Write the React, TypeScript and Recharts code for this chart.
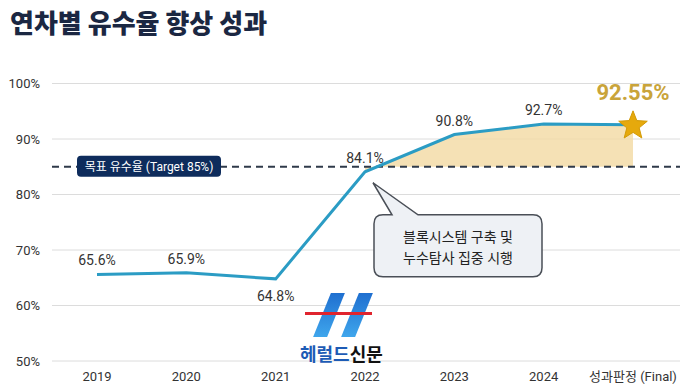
import React from 'react';
import {
  ComposedChart, Line, Area, XAxis, YAxis, CartesianGrid,
  ReferenceLine, ReferenceDot, LabelList,
} from 'recharts';

const years = ['2019', '2020', '2021', '2022', '2023', '2024', '성과판정 (Final)'];
const rates = [65.6, 65.9, 64.8, 84.1, 90.8, 92.7, 92.55];
const yTicks = [50, 60, 70, 80, 90, 100];
const TARGET = 85;
const FIRST_SHADED = 3; // shading starts from 2022
const calloutLines = ['블록시스템 구축 및', '누수탐사 집중 시행'];

const data = years.map((year, i) => ({
  year,
  rate: rates[i],
  band: i >= FIRST_SHADED ? [TARGET, rates[i]] : null,
}));

const FONT = "Roboto, 'Noto Sans CJK KR', sans-serif";

const RateLabel = (props: any) => {
  const { x, y, value, index } = props;
  if (index === rates.length - 1) return null;
  const below = index === 2;
  return (
    <text x={x} y={below ? y + 22 : y - 9} textAnchor="middle" fontSize={14} fill="#333">
      {value}%
    </text>
  );
};

const TargetTag = (props: any) => {
  const vb = props.viewBox || {};
  const x = vb.x + 25;
  const y = vb.y;
  return (
    <g>
      <rect x={x} y={y - 11} width={144} height={21} rx={4} fill="#0e2c5c" />
      <text x={x + 72} y={y + 4} textAnchor="middle" fontSize={12} fill="#fff">
        목표 유수율 (Target 85%)
      </text>
    </g>
  );
};

const Star = (props: any) => {
  const { cx, cy } = props;
  const pts: string[] = [];
  for (let i = 0; i < 10; i++) {
    const r = i % 2 === 0 ? 15 : 6.5;
    const a = -Math.PI / 2 + (i * Math.PI) / 5;
    pts.push(`${cx + r * Math.cos(a)},${cy + 1 + r * Math.sin(a)}`);
  }
  return (
    <g>
      <polygon points={pts.join(' ')} fill="#e6a90c" stroke="#d39a06" strokeWidth={1} />
      <text x={cx} y={cy - 25} textAnchor="middle" fontSize={22} fontWeight={700} fill="#c9a43a">
        92.55%
      </text>
    </g>
  );
};

const Callout = (props: any) => {
  const { cx, cy } = props;
  const x0 = cx + 9, x1 = cx + 177, y0 = cy + 43, y1 = cy + 105, r = 9;
  const d = [
    `M${x0 + r},${y0}`,
    `L${cx + 27},${y0}`,
    `L${cx + 8},${cy + 11}`,
    `L${cx + 53},${y0}`,
    `L${x1 - r},${y0}`,
    `Q${x1},${y0} ${x1},${y0 + r}`,
    `L${x1},${y1 - r}`,
    `Q${x1},${y1} ${x1 - r},${y1}`,
    `L${x0 + r},${y1}`,
    `Q${x0},${y1} ${x0},${y1 - r}`,
    `L${x0},${y0 + r}`,
    `Q${x0},${y0} ${x0 + r},${y0}`,
    'Z',
  ].join(' ');
  const mid = (x0 + x1) / 2;
  return (
    <g>
      <path d={d} fill="#eef1f5" stroke="#4a4f57" strokeWidth={1.5} />
      {calloutLines.map((t, i) => (
        <text key={t} x={mid} y={y0 + 27 + i * 21} textAnchor="middle" fontSize={14} fill="#222">
          {t}
        </text>
      ))}
    </g>
  );
};

const Watermark = () => (
  <div style={{ position: 'absolute', left: 300, top: 290, width: 82, height: 80, pointerEvents: 'none' }}>
    <div style={{ position: 'absolute', left: 22, top: 3, width: 14, height: 44, background: 'linear-gradient(180deg,#1f6fd0,#3fa6ec)', transform: 'skewX(-22deg)' }} />
    <div style={{ position: 'absolute', left: 50, top: 3, width: 14, height: 44, background: 'linear-gradient(180deg,#1f6fd0,#3fa6ec)', transform: 'skewX(-22deg)' }} />
    <div style={{ position: 'absolute', left: 5, top: 22, width: 67, height: 3, background: '#e0242e' }} />
    <div style={{ position: 'absolute', left: 0, top: 53, fontSize: 18, fontWeight: 700, fontFamily: "'Noto Sans CJK KR', sans-serif", whiteSpace: 'nowrap', lineHeight: '20px' }}>
      <span style={{ color: '#1d5bb5' }}>헤럴드</span>
      <span style={{ color: '#111' }}>신문</span>
    </div>
  </div>
);

export default function App() {
  return (
    <div style={{ position: 'relative', width: 680, height: 387, background: '#fff', fontFamily: FONT, overflow: 'hidden' }}>
      <style>{'body{margin:0}'}</style>
      <div style={{ position: 'absolute', left: 10, top: 2, fontSize: 26, fontWeight: 900, color: '#1b2742', fontFamily: "'Noto Sans CJK KR', sans-serif", lineHeight: '40px' }}>
        연차별 유수율 향상 성과
      </div>
      <ComposedChart width={680} height={387} data={data} margin={{ top: 83.5, right: 0, bottom: 0, left: 0 }}>
        <CartesianGrid vertical={false} stroke="#dcdcdc" />
        <XAxis
          dataKey="year"
          scale="point"
          padding={{ left: 45, right: 47 }}
          height={26}
          axisLine={false}
          tickLine={false}
          tickMargin={5}
          interval={0}
          tick={{ fontSize: 13, fill: '#333' }}
        />
        <YAxis
          domain={[50, 100]}
          ticks={yTicks}
          width={52}
          axisLine={false}
          tickLine={false}
          tickMargin={6}
          tickFormatter={(v: number) => `${v}%`}
          tick={{ fontSize: 13, fill: '#333' }}
        />
        <Area
          dataKey="band"
          stroke="none"
          fill="#f2d9a2"
          fillOpacity={0.8}
          isAnimationActive={false}
        />
        <ReferenceLine y={TARGET} stroke="#2f3a4a" strokeWidth={2} strokeDasharray="7 5" label={<TargetTag />} />
        <Line
          dataKey="rate"
          type="linear"
          stroke="#2b9cc4"
          strokeWidth={3}
          dot={false}
          isAnimationActive={false}
        >
          <LabelList dataKey="rate" content={<RateLabel />} />
        </Line>
        <ReferenceDot x={years[3]} y={rates[3]} r={0} shape={(p: any) => <Callout {...p} />} />
        <ReferenceDot x={years[6]} y={rates[6]} r={0} shape={(p: any) => <Star {...p} />} />
      </ComposedChart>
      <Watermark />
    </div>
  );
}
